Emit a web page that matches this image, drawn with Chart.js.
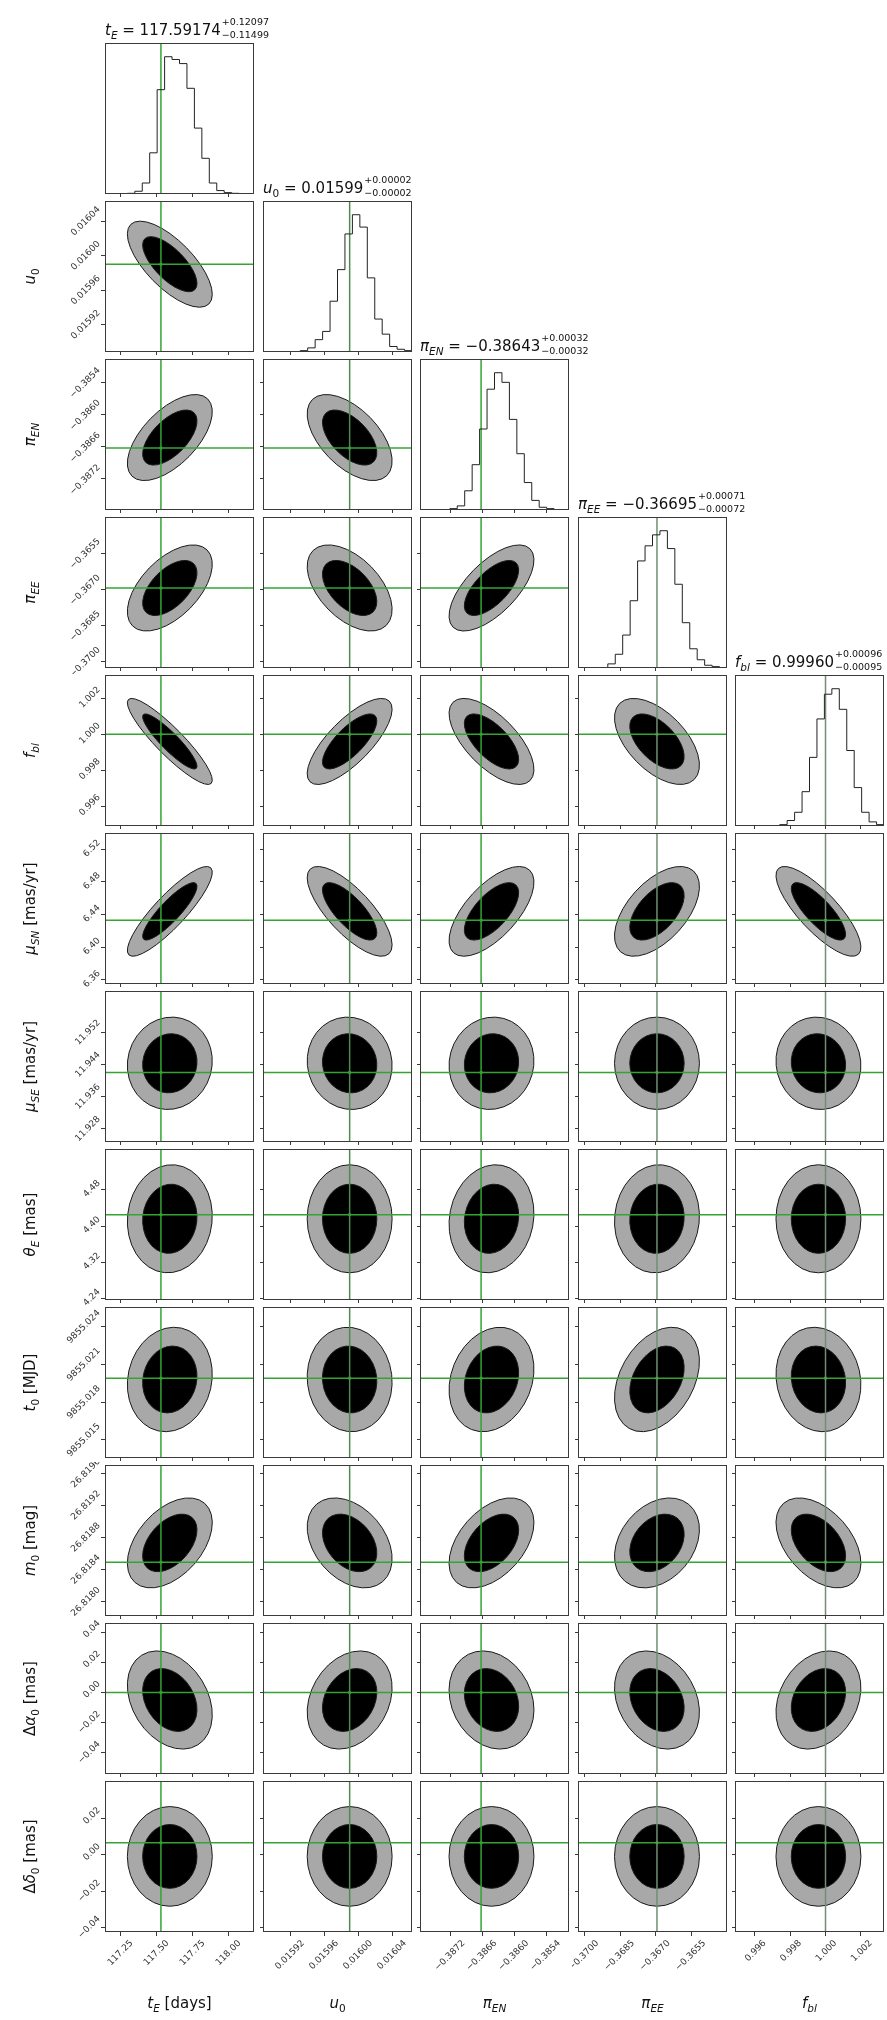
<!DOCTYPE html>
<html>
<head>
<meta charset="utf-8">
<script src="https://cdn.jsdelivr.net/npm/chart.js@4.4.1/dist/chart.umd.min.js"></script>
<style>
html, body { margin: 0; padding: 0; background: #fff; }
#fig { position: relative; width: 887px; height: 2020px; overflow: hidden; background: #fff; }
#fig canvas { position: absolute; }
</style>
</head>
<body>
<div id="fig"></div>
<script>
// posterior summary per parameter (t_E, u_0, pi_EN, pi_EE, f_bl, mu_SN, mu_SE, theta_E, t_0, m_0, dalpha_0, ddelta_0)
const medians = [117.59174, 0.01599, -0.38643, -0.36695, 0.99960, 6.444, 11.9443, 4.416, 9855.0198, 26.81873, -0.005, -0.0008];
const sigmas = [0.118, 0.00002, 0.00032, 0.000715, 0.00096, 0.022, 0.0046, 0.0477, 0.00166, 0.000224, 0.013, 0.011];
const truths = [117.530, 0.01599, -0.386626, -0.36695, 1.0, 6.433, 11.942, 4.425, 9855.0199, 26.81849, 0.0, 0.0067];
const errPlus = [0.12097, 0.00002, 0.00032, 0.00071, 0.00096];
const errMinus = [0.11499, 0.00002, 0.00032, 0.00072, 0.00095];

// axis ranges and ticks
const axisMin = [117.1415, 0.015888, -0.387777, -0.370273, 0.994885, 6.355, 11.9247, 4.2367, 9855.01356, 26.81782, -0.054, -0.0425];
const axisMax = [118.1765, 0.0160634, -0.38497, -0.364003, 1.003305, 6.54, 11.9623, 4.57, 9855.02556, 26.8197, 0.046, 0.0408];
const tickValues = [
    [117.25, 117.5, 117.75, 118.0],
    [0.01592, 0.01596, 0.016, 0.01604],
    [-0.3872, -0.3866, -0.386, -0.3854],
    [-0.37, -0.3685, -0.367, -0.3655],
    [0.996, 0.998, 1.0, 1.002],
    [6.36, 6.4, 6.44, 6.48, 6.52],
    [11.928, 11.936, 11.944, 11.952],
    [4.24, 4.32, 4.4, 4.48],
    [9855.015, 9855.018, 9855.021, 9855.024],
    [26.818, 26.8184, 26.8188, 26.8192, 26.8196],
    [-0.04, -0.02, 0, 0.02, 0.04],
    [-0.04, -0.02, 0, 0.02]
];
const tickDecimals = [2, 5, 4, 4, 3, 2, 3, 2, 3, 4, 2, 2];

// correlation of row parameter with each column parameter
const correlations = [
    [],
    [-0.7],
    [0.6, -0.55],
    [0.55, -0.5, 0.65],
    [-0.9, 0.75, -0.65, -0.55],
    [0.87, -0.75, 0.65, 0.55, -0.8],
    [0.05, -0.05, 0.05, 0.0, -0.05],
    [0.05, 0.0, 0.1, 0.05, 0.0],
    [0.1, -0.05, 0.2, 0.35, -0.1],
    [0.45, -0.35, 0.45, 0.3, -0.45],
    [-0.3, 0.25, -0.2, -0.25, 0.25],
    [0.0, 0.0, 0.0, 0.0, 0.0]
];

// 1D histograms (20 bins over the axis range, peak = 1)
const histTE = [0, 0, 0.005, 0.02, 0.08, 0.3, 0.76, 1.0, 0.98, 0.95, 0.77, 0.48, 0.26, 0.08, 0.025, 0.01, 0.005, 0, 0, 0];
const histU0 = [0, 0, 0, 0, 0.01, 0.03, 0.09, 0.15, 0.37, 0.6, 0.86, 1.0, 0.91, 0.54, 0.24, 0.13, 0.04, 0.02, 0.01, 0];
const histPiEN = [0, 0, 0, 0.01, 0.03, 0.14, 0.33, 0.59, 0.88, 1.0, 0.93, 0.66, 0.41, 0.2, 0.07, 0.02, 0.01, 0, 0, 0];
const histPiEE = [0, 0, 0, 0.03, 0.1, 0.24, 0.49, 0.78, 0.89, 0.97, 1.0, 0.87, 0.61, 0.33, 0.14, 0.06, 0.02, 0.01, 0, 0];
const histFbl = [0, 0, 0, 0, 0, 0.01, 0.04, 0.1, 0.25, 0.5, 0.78, 0.96, 1.0, 0.85, 0.55, 0.28, 0.1, 0.03, 0.01, 0];
const histograms = [histTE, histU0, histPiEN, histPiEE, histFbl];

// axis label pieces (i = italic, sub = subscript)
const paramSymbols = [
    [{t: 't', i: 1}, {t: 'E', i: 1, sub: 1}],
    [{t: 'u', i: 1}, {t: '0', sub: 1}],
    [{t: 'π', i: 1}, {t: 'EN', i: 1, sub: 1}],
    [{t: 'π', i: 1}, {t: 'EE', i: 1, sub: 1}],
    [{t: 'f', i: 1}, {t: 'bl', i: 1, sub: 1}],
    [{t: 'μ', i: 1}, {t: 'SN', i: 1, sub: 1}],
    [{t: 'μ', i: 1}, {t: 'SE', i: 1, sub: 1}],
    [{t: 'θ', i: 1}, {t: 'E', i: 1, sub: 1}],
    [{t: 't', i: 1}, {t: '0', sub: 1}],
    [{t: 'm', i: 1}, {t: '0', sub: 1}],
    [{t: 'Δ'}, {t: 'α', i: 1}, {t: '0', sub: 1}],
    [{t: 'Δ'}, {t: 'δ', i: 1}, {t: '0', sub: 1}]
];
const paramUnits = [' [days]', '', '', '', '', ' [mas/yr]', ' [mas/yr]', ' [mas]', ' [MJD]', ' [mag]', ' [mas]', ' [mas]'];

// layout
const N_ROWS = 12, N_COLS = 5;
const FIG_W = 887, FIG_H = 2020;
const PANEL_X0 = 105, PANEL_DX = 157.5, PANEL_W = 149;
const PANEL_Y0 = 43, PANEL_DY = 158, PANEL_H = 151;
const R_INNER = 1.6, R_OUTER = 2.5;
const FONT = "'DejaVu Sans', sans-serif";
const TRUTH_COLORS = ['#34a334', '#4e8a4e', '#34a334', '#6f8f6f', '#6f8f6f'];
const ROW_TRUTH = '#34a334';
const FRAME = '#3a3a3a';

const fig = document.getElementById('fig');

function fmtTick(v, d) {
    const s = Math.abs(v).toFixed(d);
    return (v < 0 && parseFloat(s) !== 0 ? '\u2212' : '') + s;
}

function setFont(ctx, size, italic) {
    ctx.font = (italic ? 'italic ' : '') + size + 'px ' + FONT;
}

function richWidth(ctx, segs, size) {
    let w = 0;
    segs.forEach(s => {
        setFont(ctx, s.sub ? size * 0.7 : size, s.i);
        w += ctx.measureText(s.t).width;
    });
    return w;
}

function drawRich(ctx, segs, x, y, size) {
    ctx.textAlign = 'left';
    ctx.textBaseline = 'alphabetic';
    ctx.fillStyle = '#111';
    segs.forEach(s => {
        setFont(ctx, s.sub ? size * 0.7 : size, s.i);
        ctx.fillText(s.t, x, s.sub ? y + size * 0.25 : y);
        x += ctx.measureText(s.t).width;
    });
    return x;
}

function drawContours(chart, r, c) {
    const xs = chart.scales.x, ys = chart.scales.y, ctx = chart.ctx, a = chart.chartArea;
    const cx = xs.getPixelForValue(medians[c]), cy = ys.getPixelForValue(medians[r]);
    const sx = Math.abs(xs.getPixelForValue(medians[c] + sigmas[c]) - cx);
    const sy = Math.abs(ys.getPixelForValue(medians[r] + sigmas[r]) - cy);
    // pixel y runs downward, so flip the sign of the correlation
    const rho = -correlations[r][c];
    const vxx = sx * sx, vyy = sy * sy, vxy = rho * sx * sy;
    const m = (vxx + vyy) / 2, q = Math.sqrt(((vxx - vyy) / 2) ** 2 + vxy * vxy);
    const ang = 0.5 * Math.atan2(2 * vxy, vxx - vyy);
    const ax1 = Math.sqrt(m + q), ax2 = Math.sqrt(Math.max(m - q, 0.01));
    ctx.save();
    ctx.beginPath();
    ctx.rect(a.left, a.top, a.right - a.left, a.bottom - a.top);
    ctx.clip();
    [[R_OUTER, '#a8a8a8'], [R_INNER, '#000']].forEach(([k, fill]) => {
        ctx.beginPath();
        ctx.ellipse(cx, cy, k * ax1, k * ax2, ang, 0, Math.PI * 2);
        ctx.fillStyle = fill;
        ctx.fill();
        ctx.lineWidth = 1;
        ctx.strokeStyle = '#1a1a1a';
        ctx.stroke();
    });
    ctx.restore();
}

function makePanel(r, c) {
    const diag = r === c;
    const leftAxis = c === 0 && !diag;
    const bottomAxis = r === N_ROWS - 1;
    const pl = Math.round(PANEL_X0 + c * PANEL_DX);
    const pt = Math.round(PANEL_Y0 + r * PANEL_DY);
    const L = leftAxis ? pl : 6;
    const B = bottomAxis ? FIG_H - (pt + PANEL_H) : 6;
    const T = diag ? 43 : 3;
    const R = diag ? FIG_W - (pl + PANEL_W) : 3;
    const W = L + PANEL_W + R, H = T + PANEL_H + B;

    const cv = document.createElement('canvas');
    cv.width = W;
    cv.height = H;
    cv.style.left = (pl - L) + 'px';
    cv.style.top = (pt - T) + 'px';
    cv.style.width = W + 'px';
    cv.style.height = H + 'px';
    fig.appendChild(cv);

    const datasets = [];
    let yMin, yMax;
    if (diag) {
        yMin = 0;
        yMax = 1.1;
        const h = histograms[c];
        const bw = (axisMax[c] - axisMin[c]) / h.length;
        const pts = [{x: axisMin[c], y: 0}];
        h.forEach((v, k) => pts.push({x: axisMin[c] + (k + 1) * bw, y: v}));
        datasets.push({type: 'line', data: pts, stepped: 'before', borderColor: '#222', borderWidth: 1, pointRadius: 0, fill: false});
        datasets.push({type: 'line', data: [{x: truths[c], y: yMin}, {x: truths[c], y: yMax}], borderColor: TRUTH_COLORS[c], borderWidth: 1.5, pointRadius: 0});
    } else {
        yMin = axisMin[r];
        yMax = axisMax[r];
        datasets.push({type: 'line', data: [{x: truths[c], y: yMin}, {x: truths[c], y: yMax}], borderColor: TRUTH_COLORS[c], borderWidth: 1.5, pointRadius: 0});
        datasets.push({type: 'line', data: [{x: axisMin[c], y: truths[r]}, {x: axisMax[c], y: truths[r]}], borderColor: ROW_TRUTH, borderWidth: 1.5, pointRadius: 0});
        datasets.push({type: 'scatter', data: [{x: truths[c], y: truths[r]}], pointStyle: 'rect', pointRadius: 2, backgroundColor: ROW_TRUTH, borderWidth: 0});
    }

    const xLabels = tickValues[c].map(v => fmtTick(v, tickDecimals[c]));
    const xOff = Math.round(Math.max(...xLabels.map(s => s.length)) * 1.9);
    const yLabels = diag ? [] : tickValues[r].map(v => fmtTick(v, tickDecimals[r]));
    const yOff = diag ? 0 : -Math.round(Math.max(...yLabels.map(s => s.length)) * 1.9);

    const cornerPlugin = {
        id: 'corner',
        beforeDatasetsDraw(chart) {
            if (!diag) drawContours(chart, r, c);
        },
        afterDatasetsDraw(chart) {
            const a = chart.chartArea, ctx = chart.ctx;
            ctx.save();
            ctx.strokeStyle = FRAME;
            ctx.lineWidth = 1;
            ctx.strokeRect(a.left + 0.5, a.top + 0.5, a.right - a.left - 1, a.bottom - a.top - 1);
            ctx.restore();
        },
        afterDraw(chart) {
            const a = chart.chartArea, ctx = chart.ctx;
            ctx.save();
            if (diag) {
                const segs = paramSymbols[c].concat([{t: ' = ' + fmtTick(medians[c], 5)}]);
                const by = a.top - 8;
                const x2 = drawRich(ctx, segs, a.left, by, 15);
                setFont(ctx, 9.5, false);
                ctx.fillText('+' + errPlus[c].toFixed(5), x2 + 1, by - 10);
                ctx.fillText('\u2212' + errMinus[c].toFixed(5), x2 + 1, by + 3);
            }
            if (leftAxis) {
                const segs = paramSymbols[r].concat(paramUnits[r] ? [{t: paramUnits[r]}] : []);
                const w = richWidth(ctx, segs, 15);
                ctx.translate(30, (a.top + a.bottom) / 2);
                ctx.rotate(-Math.PI / 2);
                drawRich(ctx, segs, -w / 2, 5, 15);
            }
            ctx.restore();
            if (bottomAxis) {
                ctx.save();
                const segs = paramSymbols[c].concat(paramUnits[c] ? [{t: paramUnits[c]}] : []);
                const w = richWidth(ctx, segs, 15);
                drawRich(ctx, segs, (a.left + a.right) / 2 - w / 2, H - 12, 15);
                ctx.restore();
            }
        }
    };

    new Chart(cv, {
        type: 'line',
        data: {datasets: datasets},
        plugins: [cornerPlugin],
        options: {
            responsive: false,
            animation: false,
            devicePixelRatio: 1,
            events: [],
            layout: {padding: {left: 0, right: R, top: T, bottom: 0}, autoPadding: false},
            plugins: {legend: {display: false}, tooltip: {enabled: false}, title: {display: false}},
            scales: {
                x: {
                    type: 'linear',
                    position: 'bottom',
                    min: axisMin[c],
                    max: axisMax[c],
                    afterBuildTicks: s => { s.ticks = tickValues[c].map(v => ({value: v})); },
                    afterFit: s => {
                        s.height = B;
                        s.paddingLeft = s.paddingRight = s.paddingTop = s.paddingBottom = 0;
                    },
                    border: {display: false},
                    grid: {display: true, drawOnChartArea: false, drawTicks: true, tickLength: bottomAxis ? 4 : 3, color: FRAME, lineWidth: 1},
                    ticks: {
                        display: bottomAxis,
                        autoSkip: false,
                        minRotation: 45,
                        maxRotation: 45,
                        padding: 2,
                        labelOffset: xOff,
                        color: '#333',
                        font: {size: 9, family: FONT},
                        callback: v => fmtTick(v, tickDecimals[c])
                    }
                },
                y: {
                    type: 'linear',
                    position: 'left',
                    min: yMin,
                    max: yMax,
                    afterBuildTicks: s => { s.ticks = diag ? [] : tickValues[r].map(v => ({value: v})); },
                    afterFit: s => {
                        s.width = L;
                        s.paddingLeft = s.paddingRight = s.paddingTop = s.paddingBottom = 0;
                    },
                    border: {display: false},
                    grid: {display: !diag, drawOnChartArea: false, drawTicks: true, tickLength: leftAxis ? 4 : 3, color: FRAME, lineWidth: 1},
                    ticks: {
                        display: leftAxis,
                        autoSkip: false,
                        minRotation: 45,
                        maxRotation: 45,
                        padding: 2,
                        labelOffset: yOff,
                        color: '#333',
                        font: {size: 9, family: FONT},
                        callback: v => diag ? '' : fmtTick(v, tickDecimals[r])
                    }
                }
            }
        }
    });
}

for (let r = 0; r < N_ROWS; r++) {
    for (let c = 0; c < N_COLS && c <= r; c++) {
        makePanel(r, c);
    }
}
</script>
</body>
</html>
